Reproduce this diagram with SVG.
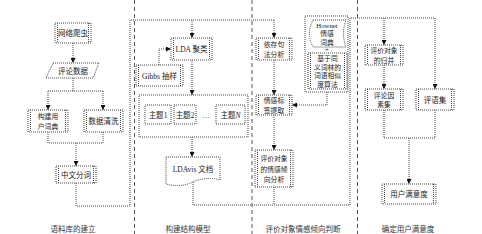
<svg xmlns="http://www.w3.org/2000/svg" width="482" height="234" viewBox="0 0 482 234">
<defs>
<marker id="ah" viewBox="0 0 6 6" refX="6" refY="3" markerWidth="5" markerHeight="5" orient="auto" markerUnits="userSpaceOnUse">
<path d="M0,0 L6,3 L0,6 Z" fill="#111"/>
</marker>
<style>
.bx{fill:#fff;stroke:#444;stroke-width:1;stroke-dasharray:1 1}
.in{fill:none;stroke:#444;stroke-width:1;stroke-dasharray:1 1}
.cn{fill:none;stroke:#444;stroke-width:1;stroke-dasharray:1 1}
.dv{fill:none;stroke:#555;stroke-width:1;stroke-dasharray:4 3}
text{font-family:"Noto Sans CJK SC","Liberation Serif",sans-serif;font-size:7.5px;fill:#222;text-anchor:middle}
.sm{font-size:6.8px}
.lt{font-family:"Liberation Serif","Noto Sans CJK SC",serif}
.lb{font-size:7.5px;fill:#333}
</style>
</defs>
<rect width="482" height="234" fill="#fff"/>
<g id="dividers">
<line class="dv" x1="134.5" y1="0" x2="134.5" y2="234"/>
<line class="dv" x1="252" y1="0" x2="252" y2="234"/>
<line class="dv" x1="357.5" y1="0" x2="357.5" y2="234"/>
</g>
<g id="connectors">
<line class="cn" x1="73" y1="43" x2="73" y2="63" marker-end="url(#ah)"/>
<polyline class="cn" points="73,78 73,91"/>
<polyline class="cn" points="48,91 103,91"/>
<line class="cn" x1="48" y1="91" x2="48" y2="110" marker-end="url(#ah)"/>
<line class="cn" x1="103" y1="91" x2="103" y2="110" marker-end="url(#ah)"/>
<polyline class="cn" points="48,132 48,143 103,143 103,132"/>
<line class="cn" x1="76" y1="143" x2="76" y2="166" marker-end="url(#ah)"/>
<polyline class="cn" points="76,183 76,206 130,206 130,20 274,20"/>
<line class="cn" x1="274" y1="20" x2="274" y2="38" marker-end="url(#ah)"/>
<line class="cn" x1="192" y1="20" x2="192" y2="38" marker-end="url(#ah)"/>
<polyline class="cn" points="159,65 159,49 171,49" marker-end="url(#ah)"/>
<line class="cn" x1="192" y1="60" x2="192" y2="95" marker-end="url(#ah)"/>
<line class="cn" x1="192" y1="137" x2="192" y2="157" marker-end="url(#ah)"/>
<polyline class="cn" points="193,182 193,205 350,205 350,18 435,18"/>
<line class="cn" x1="274" y1="187" x2="274" y2="205"/>
<line class="cn" x1="274" y1="60" x2="274" y2="95" marker-end="url(#ah)"/>
<line class="cn" x1="274" y1="115" x2="274" y2="150" marker-end="url(#ah)"/>
<polyline class="cn" points="327,92 327,105 292,105" marker-end="url(#ah)"/>
<line class="cn" x1="384" y1="18" x2="384" y2="45" marker-end="url(#ah)"/>
<line class="cn" x1="435" y1="18" x2="435" y2="89" marker-end="url(#ah)"/>
<line class="cn" x1="384" y1="65" x2="384" y2="89" marker-end="url(#ah)"/>
<polyline class="cn" points="384,110 384,138 435,138 435,110"/>
<line class="cn" x1="409" y1="138" x2="409" y2="184" marker-end="url(#ah)"/>
</g>
<g id="n-crawler">
<rect class="bx" x="55" y="23" width="36" height="20"/>
<line class="in" x1="57.5" y1="23" x2="57.5" y2="43"/><line class="in" x1="88.5" y1="23" x2="88.5" y2="43"/>
<text x="73" y="36">网络爬虫</text>
</g>
<g id="n-data">
<polygon class="bx" points="53,63 99,63 93,78 46,78"/>
<text x="73" y="73.5">评论数据</text>
</g>
<g id="n-dict">
<rect class="bx" x="28" y="110" width="40" height="22"/>
<line class="in" x1="30.5" y1="110" x2="30.5" y2="132"/><line class="in" x1="65.5" y1="110" x2="65.5" y2="132"/>
<text class="sm" x="48" y="119">构建用</text><text class="sm" x="48" y="129">户词典</text>
</g>
<g id="n-clean">
<rect class="bx" x="84" y="110" width="39" height="22"/>
<line class="in" x1="86.5" y1="110" x2="86.5" y2="132"/><line class="in" x1="120.5" y1="110" x2="120.5" y2="132"/>
<text x="103.5" y="124">数据清洗</text>
</g>
<g id="n-seg">
<rect class="bx" x="56" y="166" width="40" height="17"/>
<line class="in" x1="58.5" y1="166" x2="58.5" y2="183"/><line class="in" x1="93.5" y1="166" x2="93.5" y2="183"/>
<text x="76" y="177.5">中文分词</text>
</g>
<g id="n-lda">
<rect class="bx" x="171" y="38" width="41" height="22"/>
<line class="in" x1="173.5" y1="38" x2="173.5" y2="60"/><line class="in" x1="209.5" y1="38" x2="209.5" y2="60"/>
<text x="191.5" y="52"><tspan class="lt">LDA </tspan>聚类</text>
</g>
<g id="n-gibbs">
<rect class="bx" x="136" y="65" width="47" height="21"/>
<line class="in" x1="138.5" y1="65" x2="138.5" y2="86"/><line class="in" x1="180.5" y1="65" x2="180.5" y2="86"/>
<text x="159.5" y="78.5"><tspan class="lt">Gibbs </tspan>抽样</text>
</g>
<g id="n-topics">
<rect class="bx" x="139" y="95" width="109" height="42"/>
<rect class="bx" x="145" y="105" width="26" height="19"/>
<text x="158" y="117.5">主题<tspan class="lt">1</tspan></text>
<rect class="bx" x="174" y="105" width="22" height="19"/>
<text x="185" y="117.5">主题<tspan class="lt">2</tspan></text>
<text x="206" y="118" class="lt">…</text>
<rect class="bx" x="216" y="105" width="29" height="19"/>
<text x="230.5" y="117.5">主题<tspan class="lt" font-style="italic">N</tspan></text>
</g>
<g id="n-ldavis">
<path class="bx" d="M166,157 L220,157 L220,180 Q206,176 193,182 Q180,188 166,184 Z"/>
<text x="193" y="172"><tspan class="lt">LDAvis </tspan>文档</text>
</g>
<g id="n-dep">
<rect class="bx" x="256" y="38" width="36" height="22"/>
<line class="in" x1="258.5" y1="38" x2="258.5" y2="60"/><line class="in" x1="289.5" y1="38" x2="289.5" y2="60"/>
<text class="sm" x="274" y="47">依存句</text><text class="sm" x="274" y="57">法分析</text>
</g>
<g id="n-tag">
<rect class="bx" x="256" y="95" width="36" height="20"/>
<line class="in" x1="258.5" y1="95" x2="258.5" y2="115"/><line class="in" x1="289.5" y1="95" x2="289.5" y2="115"/>
<text class="sm" x="274" y="103">情感标</text><text class="sm" x="274" y="112.5">签提取</text>
</g>
<g id="n-orient">
<rect class="bx" x="255" y="150" width="38" height="37"/>
<line class="in" x1="257.5" y1="150" x2="257.5" y2="187"/><line class="in" x1="290.5" y1="150" x2="290.5" y2="187"/>
<text class="sm" x="274" y="161">评价对象</text><text class="sm" x="274" y="171.5">的情感倾</text><text class="sm" x="274" y="182">向分析</text>
</g>
<g id="n-hownet">
<rect class="bx" x="305" y="16" width="43" height="76"/>
<path class="bx" d="M313,20 L346,20 Q341,33.5 346,47 L313,47 Q306,33.5 313,20 Z"/>
<text class="lt sm" x="327" y="27.5">Hownet</text>
<text class="sm" x="327" y="36">情感</text><text class="sm" x="327" y="44.5">词典</text>
<text class="lt sm" x="327" y="52">+</text>
<rect class="bx" x="308" y="53" width="39" height="36"/>
<line class="in" x1="310.5" y1="53" x2="310.5" y2="89"/><line class="in" x1="344.5" y1="53" x2="344.5" y2="89"/>
<text class="sm" x="327.5" y="61">基于同</text><text class="sm" x="327.5" y="69.5">义词林的</text><text class="sm" x="327.5" y="78">词语相似</text><text class="sm" x="327.5" y="86.5">度算法</text>
</g>
<g id="n-merge">
<rect class="bx" x="365" y="45" width="38" height="20"/>
<line class="in" x1="367.5" y1="45" x2="367.5" y2="65"/><line class="in" x1="400.5" y1="45" x2="400.5" y2="65"/>
<text class="sm" x="384" y="53">评价对象</text><text class="sm" x="384" y="62.5">的归并</text>
</g>
<g id="n-factor">
<rect class="bx" x="365" y="89" width="38" height="21"/>
<line class="in" x1="367.5" y1="89" x2="367.5" y2="110"/><line class="in" x1="400.5" y1="89" x2="400.5" y2="110"/>
<text class="sm" x="384" y="97.5">评论因</text><text class="sm" x="384" y="107">素集</text>
</g>
<g id="n-comment">
<rect class="bx" x="416" y="89" width="38" height="21"/>
<line class="in" x1="418.5" y1="89" x2="418.5" y2="110"/><line class="in" x1="451.5" y1="89" x2="451.5" y2="110"/>
<text x="435" y="103">评语集</text>
</g>
<g id="n-satis">
<rect class="bx" x="382" y="184" width="54" height="20"/>
<line class="in" x1="384.5" y1="184" x2="384.5" y2="204"/><line class="in" x1="433.5" y1="184" x2="433.5" y2="204"/>
<text x="409" y="197">用户满意度</text>
</g>
<g id="labels">
<text class="lb" x="73" y="232">语料库的建立</text>
<text class="lb" x="188" y="232">构建结构模型</text>
<text class="lb" x="303" y="232">评价对象情感倾向判断</text>
<text class="lb" x="408" y="232">确定用户满意度</text>
</g>
</svg>
